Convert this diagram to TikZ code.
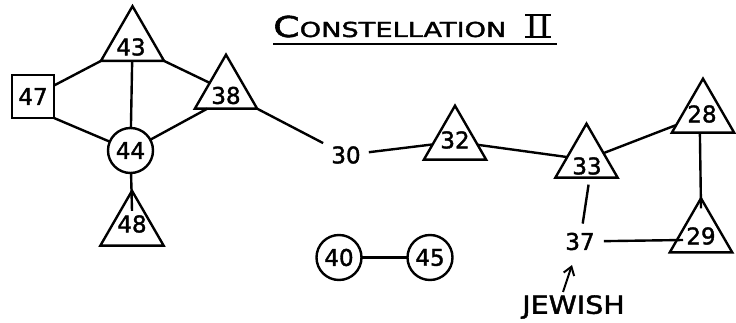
\documentclass[tikz,border=0pt]{standalone}
\usepackage{fontspec}
\usepackage{graphicx}
\setmainfont{DejaVu Sans}[BoldFont=DejaVu Sans,BoldFeatures={FakeBold=1.6}]
\usetikzlibrary{shapes.geometric,calc,arrows.meta}
\tikzset{
  every node/.style={font=\bfseries},
  lw/.style={line width=2.4pt},
  tri/.style={draw,lw,regular polygon,regular polygon sides=3,minimum size=72pt,inner sep=0pt,outer sep=0pt},
  circ/.style={draw,lw,circle,minimum size=45pt,inner sep=0pt,outer sep=0pt,font=\numfont},
  sq/.style={draw,lw,rectangle,minimum width=42pt,minimum height=43pt,inner sep=0pt,outer sep=0pt,font=\numfont},
  lab/.style={inner sep=0pt,font=\numfont},
  free/.style={inner sep=8pt,font=\numfont},
  edge/.style={lw},
  arr/.style={line width=2pt,-{Straight Barb[length=8pt,width=11pt]}}
}
\newcommand{\numfont}{\fontsize{23}{25}\selectfont\bfseries}
\begin{document}
\begin{tikzpicture}[x=1pt,y=-1pt]
\useasboundingbox (0,0) rectangle (736,323);
% title
\node[anchor=base west,inner sep=0pt] (title) at (273,37)
  {\scalebox{1.32}[1]{\fontsize{28.8}{30}\selectfont\bfseries C\fontsize{20.6}{22}\selectfont ONSTELLATION}};
\node[anchor=base west,inner sep=0pt,font=\fontsize{30}{30}\selectfont\bfseries] (rn) at (527,37) {I\hspace{4pt}I};
\draw[lw] ([xshift=-2pt]rn.north west) -- ([xshift=2pt]rn.north east);
\draw[lw] ([xshift=-2pt]rn.base west) -- ([xshift=2pt]rn.base east);
\coordinate (ulA) at (273,44);
\coordinate (ulB) at (557,44);
\draw[lw] (ulA) -- (ulB);
% triangles
\node[tri,minimum size=73pt] (t43) at (132.5,42.7) {};
\node[tri] (t38) at (226,90.7) {};
\node[tri,minimum size=73pt] (t48) at (132,227.3) {};
\node[tri] (t32) at (455,141.7) {};
\node[tri] (t33) at (586.5,159.7) {};
\node[tri] (t28) at (703,114.7) {};
\node[tri] (t29) at (701,234.3) {};
\node[lab] (l43) at (131,47) {43};
\node[lab] (l38) at (226,95.5) {38};
\node[lab] (l48) at (132,224) {48};
\node[lab] (l32) at (455,140) {32};
\node[lab] (l33) at (587,166) {33};
\node[lab] (l28) at (702,114) {28};
\node[lab] (l29) at (701,236) {29};
% other nodes
\node[sq] (s47) at (33,96.5) {47};
\node[circ] (c44) at (130.5,150.5) {44};
\node[circ] (c40) at (339,257.5) {40};
\node[circ] (c45) at (430,257.5) {45};
\node[free] (n30) at (346,155) {30};
\node[free,inner sep=9pt] (n37) at (580,241.5) {37};
\node[inner sep=0pt] (jew) at (573.5,307) {\scalebox{1.14}[1]{\fontsize{25}{26}\selectfont\bfseries JEWISH}};
\coordinate (e29) at (683,240);
\coordinate (jewA) at (563,292);
\coordinate (jewB) at (572,265);
% edges
\draw[edge] (s47) -- (t43.corner 2);
\draw[edge] (s47.south east) -- (c44);
\draw[edge] (t43) -- (c44);
\draw[edge] (t43.corner 3) -- (t38);
\draw[edge] (c44) -- ($(t38.corner 2)!0.2!(t38.corner 3)$);
\draw[edge] (c44) -- ($(t48.corner 1)+(0,20)$);
\draw[edge] (t38.corner 3) -- (n30);
\draw[edge] (n30) -- (t32);
\draw[edge] (t32) -- (t33);
\draw[edge] (t33) -- (t28);
\draw[edge,shorten >=7pt] (n37) -- ($(t33.corner 2)!0.55!(t33.corner 3)$);
\draw[edge] (n37) -- (e29);
\draw[edge] ($(t28.corner 2)!0.45!(t28.corner 3)$) -- ($(t29.corner 1)+(0,10)$);
\draw[edge] (c40) -- (c45);
\draw[arr] (jewA) -- (jewB);
\end{tikzpicture}
\end{document}
